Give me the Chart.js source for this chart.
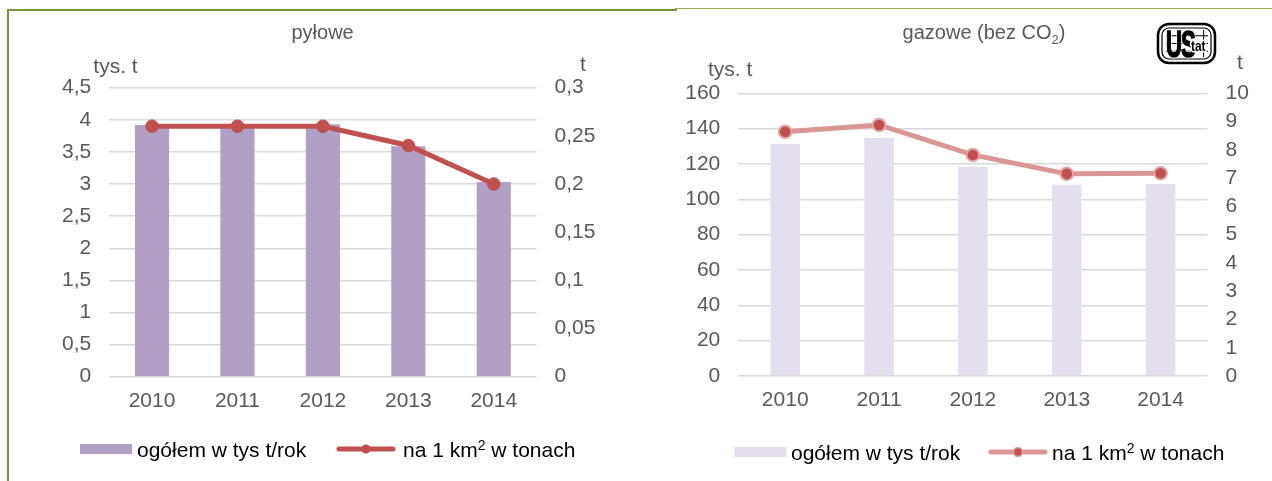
<!DOCTYPE html>
<html><head><meta charset="utf-8">
<script src="https://cdn.jsdelivr.net/npm/chart.js@4.4.1/dist/chart.umd.min.js"></script>
<style>
html,body{margin:0;padding:0;background:#fff;}
body{width:1272px;height:481px;position:relative;overflow:hidden;}
.c{position:absolute;top:0;width:636px;height:481px;}
#frameL{position:absolute;left:7px;top:9px;width:668px;height:480px;border-left:2px solid #77933C;border-top:2px solid #77933C;}
#lineR{position:absolute;left:675px;top:8px;width:597px;height:1px;background:#8EB04F;}
</style></head>
<body>
<div id="frameL"></div><div id="lineR"></div>
<div class="c" style="left:0"><canvas id="cL" width="636" height="481"></canvas></div>
<div class="c" style="left:636px"><canvas id="cR" width="636" height="481"></canvas></div>
<script>
// ---- data ----
const years = ['2010', '2011', '2012', '2013', '2014'];
const seriesNames = ['ogółem w tys t/rok', 'na 1 km² w tonach'];
const dustTotal = [3.92, 3.91, 3.93, 3.59, 3.03];      // tys. t
const dustPerKm2 = [0.26, 0.26, 0.26, 0.24, 0.20];    // t
const gasTotal = [131.3, 134.7, 118.5, 108.3, 108.7]; // tys. t
const gasPerKm2 = [8.64, 8.88, 7.82, 7.15, 7.17];     // t
const dustLeftAxis = [0, 4.5, 0.5];   // min, max, step
const dustRightAxis = [0, 0.3, 0.05];
const gasLeftAxis = [0, 160, 20];
const gasRightAxis = [0, 10, 1];
const titles = ['pyłowe', 'gazowe (bez CO₂)'];
const unitLeft = 'tys. t', unitRight = 't';

const FONT = '"Liberation Sans", Arial, sans-serif';
const GREY = '#595959';
const fmt = v => String(Number(Number(v).toFixed(4))).replace('.', ',');

function drawRich(ctx, parts, x, y, size, color, align) {
  ctx.save();
  ctx.fillStyle = color;
  ctx.textBaseline = 'alphabetic';
  ctx.textAlign = 'left';
  let total = 0;
  const widths = parts.map(p => {
    ctx.font = (p.small ? Math.round(size * 0.65) : size) + 'px ' + FONT;
    const w = ctx.measureText(p.t).width; total += w; return w;
  });
  let cx = align === 'center' ? x - total / 2 : x;
  parts.forEach((p, i) => {
    ctx.font = (p.small ? Math.round(size * 0.65) : size) + 'px ' + FONT;
    ctx.fillText(p.t, cx, y + (p.dy || 0));
    cx += widths[i];
  });
  ctx.restore();
}

function drawLogo(ctx, x, y, w, h) {
  ctx.save();
  ctx.strokeStyle = '#000'; ctx.fillStyle = '#000';
  ctx.lineWidth = 2.5;
  ctx.beginPath(); ctx.roundRect(x, y, w, h, 11); ctx.stroke();
  ctx.lineWidth = 1.2;
  ctx.beginPath(); ctx.roundRect(x + 4, y + 4, w - 8, h - 8, 7); ctx.stroke();
  ctx.lineWidth = 1;
  for (let i = 1; i < 4; i++) {
    const yy = y + 4 + (h - 8) * i / 4;
    ctx.beginPath(); ctx.moveTo(x + 8, yy); ctx.lineTo(x + w - 7, yy); ctx.stroke();
  }
  ctx.beginPath(); ctx.moveTo(x + w * 0.8, y + 6); ctx.lineTo(x + w * 0.8, y + h - 6); ctx.stroke();
  ctx.textBaseline = 'alphabetic';
  ctx.save();
  ctx.translate(x + 8, y + h - 6);
  ctx.scale(0.6, 1);
  ctx.font = '900 37px "Liberation Sans", sans-serif';
  ctx.lineWidth = 3; ctx.strokeStyle = '#fff';
  ctx.strokeText('U', 0, 0); ctx.fillText('U', 0, 0);
  ctx.strokeText('S', 25, 0); ctx.fillText('S', 25, 0);
  ctx.lineWidth = 1.5; ctx.strokeStyle = '#000';
  ctx.strokeText('U', 0, 0); ctx.strokeText('S', 25, 0);
  ctx.restore();
  ctx.save();
  ctx.translate(x + 33, y + h - 12);
  ctx.scale(0.85, 1);
  ctx.font = 'bold 14px "Liberation Sans", sans-serif';
  ctx.lineWidth = 3; ctx.strokeStyle = '#fff';
  ctx.strokeText('tat', 0, 0); ctx.fillText('tat', 0, 0);
  ctx.restore();
  ctx.restore();
}

function makeChart(id, c) {
  const extras = {
    id: 'extras',
    afterDraw(chart) {
      const ctx = chart.ctx;
      drawRich(ctx, c.titleParts, c.titleX, c.titleY, 20, GREY, 'center');
      drawRich(ctx, [{t: unitLeft}], c.unitLX, c.unitLY, 21, GREY, 'left');
      drawRich(ctx, [{t: unitRight}], c.unitRX, c.unitRY, 21, GREY, 'left');
      const L = c.legend;
      ctx.save();
      ctx.fillStyle = c.barColor;
      ctx.fillRect(L.rectX, L.rectY, 52, 10);
      ctx.restore();
      drawRich(ctx, [{t: seriesNames[0]}], L.text1X, L.textY, 21, '#000', 'left');
      ctx.save();
      ctx.strokeStyle = c.lineColor; ctx.lineWidth = 5; ctx.lineCap = 'round';
      ctx.beginPath(); ctx.moveTo(L.lineX1, L.lineY); ctx.lineTo(L.lineX2, L.lineY); ctx.stroke();
      ctx.beginPath(); ctx.arc((L.lineX1 + L.lineX2) / 2, L.lineY, 4.5, 0, Math.PI * 2);
      ctx.fillStyle = c.pointColor; ctx.fill();
      if (c.pointBorder) { ctx.lineWidth = 1.5; ctx.strokeStyle = c.pointBorder; ctx.stroke(); }
      ctx.restore();
      drawRich(ctx, [{t: 'na 1 km'}, {t: '2', small: true, dy: -7}, {t: ' w tonach'}], L.text2X, L.textY, 21, '#000', 'left');
      if (c.logo) drawLogo(ctx, c.logo[0], c.logo[1], c.logo[2], c.logo[3]);
    }
  };
  return new Chart(document.getElementById(id), {
    type: 'bar',
    data: {
      labels: years,
      datasets: [
        {
          type: 'line', label: seriesNames[1], data: c.lineData, yAxisID: 'y1', order: 0,
          borderColor: c.lineColor, borderWidth: 5, tension: 0,
          pointRadius: 6.3, pointBackgroundColor: c.pointColor,
          pointBorderColor: c.pointBorder || c.pointColor, pointBorderWidth: c.pointBorder ? 2 : 1
        },
        {
          type: 'bar', label: seriesNames[0], data: c.barData, yAxisID: 'y', order: 1,
          backgroundColor: c.barColor, categoryPercentage: 1, barPercentage: c.barPct
        }
      ]
    },
    options: {
      responsive: false, animation: false, events: [],
      layout: { padding: { top: c.top, bottom: c.padBottom, left: 0, right: 0 } },
      plugins: { legend: { display: false }, tooltip: { enabled: false }, title: { display: false } },
      scales: {
        x: {
          grid: { display: false, drawTicks: false }, border: { display: false },
          ticks: { color: GREY, font: { family: FONT, size: 21 }, padding: 12 },
          afterFit: s => { s.height = 40; }
        },
        y: {
          position: 'left', min: c.yAxis[0], max: c.yAxis[1],
          ticks: { stepSize: c.yAxis[2], color: GREY, font: { family: FONT, size: 21 }, padding: 18, callback: fmt },
          grid: { color: '#D9D9D9', lineWidth: 1.5, drawTicks: false }, border: { display: false },
          afterFit: s => { s.width = c.leftW; }
        },
        y1: {
          position: 'right', min: c.y1Axis[0], max: c.y1Axis[1],
          ticks: { stepSize: c.y1Axis[2], color: GREY, font: { family: FONT, size: 21 }, padding: 18, callback: fmt },
          grid: { display: false, drawTicks: false }, border: { display: false },
          afterFit: s => { s.width = c.rightW; }
        }
      }
    },
    plugins: [extras]
  });
}

makeChart('cL', {
  barData: dustTotal, lineData: dustPerKm2, yAxis: dustLeftAxis, y1Axis: dustRightAxis,
  barColor: '#B1A0C6', lineColor: '#C0504D', pointColor: '#C0504D', pointBorder: null, barPct: 0.4,
  top: 87.7, padBottom: 64.3, leftW: 109.3, rightW: 99.5,
  titleParts: [{t: titles[0]}], titleX: 322.6, titleY: 39,
  unitLX: 93.3, unitLY: 73.3, unitRX: 580, unitRY: 71,
  legend: { rectX: 80, rectY: 444, text1X: 137, textY: 457, lineX1: 339, lineX2: 393, lineY: 449, text2X: 403 }
});

makeChart('cR', {
  barData: gasTotal, lineData: gasPerKm2, yAxis: gasLeftAxis, y1Axis: gasRightAxis,
  barColor: '#E4DFEC', lineColor: '#DA9694', pointColor: '#C0504D', pointBorder: '#E3A4A2', barPct: 0.315,
  top: 93.3, padBottom: 65, leftW: 102.3, rightW: 64.5,
  titleParts: [{t: 'gazowe (bez CO'}, {t: '2', small: true, dy: 5}, {t: ')'}], titleX: 348, titleY: 39,
  unitLX: 72, unitLY: 76, unitRX: 601, unitRY: 69,
  legend: { rectX: 98.3, rectY: 447, text1X: 155, textY: 460, lineX1: 355, lineX2: 409, lineY: 452, text2X: 416 },
  logo: [522, 24, 57, 39]
});
</script>
</body></html>
